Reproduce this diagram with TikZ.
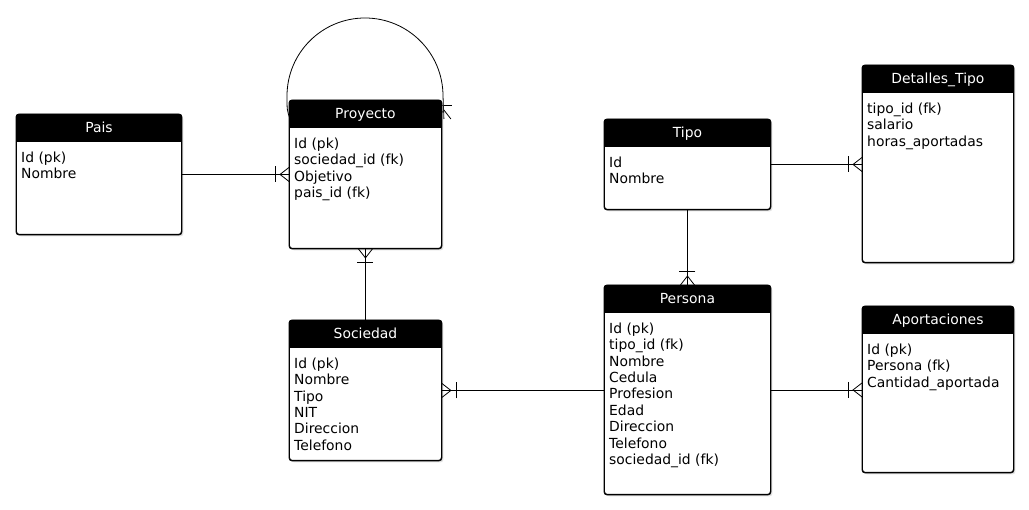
\documentclass[tikz,border=0pt]{standalone}
\usepackage{fontspec}
\setmainfont{DejaVu Sans}
\usetikzlibrary{shadows,backgrounds}

\tikzset{
  entity/.style={draw, line width=0.9pt, rounded corners=3pt, fill=white, anchor=north west, inner sep=0pt,
    drop shadow={shadow xshift=2pt, shadow yshift=-2pt, fill=black!25, opacity=0.45}},
  entitle/.style={text=white, anchor=base, inner sep=0pt, font=\fontsize{13.9}{16}\selectfont},
  fields/.style={anchor=north west, align=left, inner sep=0pt, font=\fontsize{13.9}{16.4}\selectfont},
  rel/.style={line width=0.8pt}
}

% entity box: name, x, y, width, height, title, fields
\newcommand{\entity}[7]{%
  \node[entity, minimum width=#4pt, minimum height=#5pt] (#1) at (#2,#3) {};
  \begin{scope}
    \clip[rounded corners=3pt] (#1.north west) rectangle (#1.south east);
    \fill (#1.north west) rectangle ([yshift=-28.5pt]#1.north east);
  \end{scope}
  \draw[line width=0.9pt, rounded corners=3pt] (#1.north west) rectangle (#1.south east);
  \node[entitle] (#1-title) at ([yshift=-18.5pt]#1.north) {#6};
  \node[fields] (#1-fields) at ([xshift=5pt,yshift=-37.5pt]#1.north west) {#7};
}

% crow's foot (one or many): edge point, outward angle
\newcommand{\manyfoot}[2]{%
  \begin{scope}[shift={(#1)}, rotate=#2]
    \draw[rel] (0,7) -- (9,0) -- (0,-7);
    \draw[rel] (14,8) -- (14,-8);
  \end{scope}
}

\begin{document}
\begin{tikzpicture}[x=1pt, y=-1pt]
\useasboundingbox (0,0) rectangle (1029,510);

% 1. Entities
\entity{pais}{16}{114}{165}{120}{Pais}{Id (pk)\\Nombre}
\entity{proyecto}{289}{100}{152}{148}{Proyecto}{Id (pk)\\sociedad\_id (fk)\\Objetivo\\pais\_id (fk)}
\entity{sociedad}{289}{320}{152}{140}{Sociedad}{Id (pk)\\Nombre\\Tipo\\NIT\\Direccion\\Telefono}
\entity{tipo}{604}{119}{166}{90}{Tipo}{Id\\Nombre}
\entity{persona}{604}{285}{166}{209}{Persona}{Id (pk)\\tipo\_id (fk)\\Nombre\\Cedula\\Profesion\\Edad\\Direccion\\Telefono\\sociedad\_id (fk)}
\entity{detalles}{862}{65}{151}{197}{Detalles\_Tipo}{tipo\_id (fk)\\salario\\horas\_aportadas}
\entity{aportaciones}{862}{306}{151}{166}{Aportaciones}{Id (pk)\\Persona (fk)\\Cantidad\_aportada}

% 2. Relations
\draw[rel] (pais.east) -- (pais.east -| proyecto.west);
\draw[rel] (proyecto.south) -- (sociedad.north);
\draw[rel] (sociedad.east) -- (sociedad.east -| persona.west);
\draw[rel] (tipo.south) -- (persona.north);
\draw[rel] (tipo.east) -- (tipo.east -| detalles.west);
\draw[rel] (persona.east) -- (persona.east -| aportaciones.west);

% 3. Crow's feet
\manyfoot{pais.east -| proyecto.west}{180}
\manyfoot{proyecto.south}{270}
\manyfoot{sociedad.east}{0}
\manyfoot{persona.north}{90}
\manyfoot{tipo.east -| detalles.west}{180}
\manyfoot{persona.east -| aportaciones.west}{180}

% 4. Self relation on Proyecto (behind the box)
\coordinate (loopstart) at ([xshift=1pt,yshift=-19pt]proyecto.north west);
\coordinate (loopend) at ([xshift=2pt,yshift=-19pt]proyecto.north east);
\begin{scope}[on background layer]
  \draw[rel] (loopstart) .. controls (287,110) .. (287,96)
    arc[start angle=180, end angle=0, radius=78pt] -- (loopend);
  \manyfoot{loopend}{90}
\end{scope}

\end{tikzpicture}
\end{document}
